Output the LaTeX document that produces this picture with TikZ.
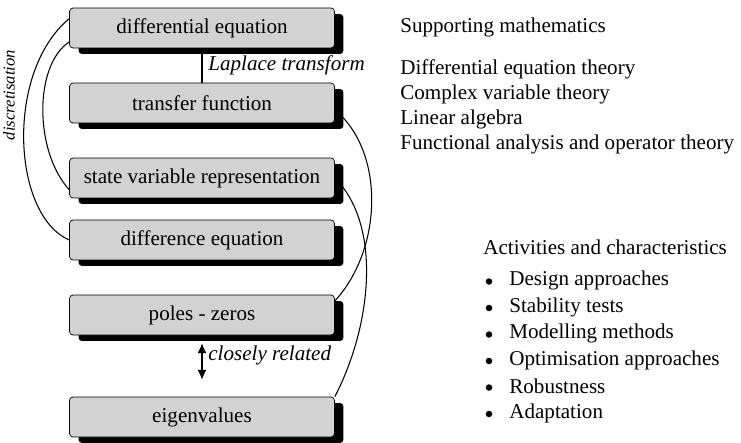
\documentclass[tikz,border=0pt]{standalone}
\usepackage{fontspec}
\setmainfont{Liberation Serif}
\usetikzlibrary{arrows.meta,shadows}

\begin{document}
\begin{tikzpicture}[
  x=0.02cm, y=-0.02cm,
  font=\fontsize{12}{14.2}\selectfont, >={Latex[length=5.5pt,width=5pt]},
  box/.style={draw,rounded corners=2pt,fill=gray!35,minimum width=5.3cm,minimum height=0.8cm,inner sep=2pt,
    drop shadow={shadow xshift=0.18cm,shadow yshift=-0.12cm,fill=black,opacity=1}},
  lbl/.style={font=\fontsize{12}{14.2}\selectfont\itshape},
  txt/.style={anchor=west,inner sep=0pt},
  dot/.style={circle,fill,inner sep=0pt,minimum size=0.13cm},
  link/.style={semithick},
]
\useasboundingbox (0,0) rectangle (741,443);
% model representations
\node[box] (de) at (202,28)  {differential equation};
\node[box] (tf) at (202,103) {transfer function};
\node[box] (sv) at (202,178) {state variable representation};
\node[box] (dq) at (202,240) {difference equation};
\node[box] (pz) at (202,315) {poles - zeros};
\node[box] (ev) at (202,417) {eigenvalues};
% links between them
\draw[link] (de) -- node[lbl,right] {Laplace transform} (tf);
\draw[link,<->,shorten <=0.16cm,shorten >=0.34cm] (pz) -- node[lbl,right,pos=0.33] {closely related} (ev);
\draw[link] (de.176) .. controls (5,72) and (12,215) .. (dq.west);
\node[lbl,font=\fontsize{9.5}{11}\selectfont\itshape,rotate=90] (dl) at (9,95) {discretisation};
\draw[link] (de.186) .. controls (34,65) and (34,151) .. (sv.185);
\draw[link] (tf.357) .. controls (384,150) and (384,247) .. (pz.6);
\draw[link] (sv.east) .. controls (382,225) and (372,325) .. (ev.north east);
% supporting mathematics
\node[txt] (sm) at (400,27) {Supporting mathematics};
\foreach \t [count=\i] in {Differential equation theory,Complex variable theory,Linear algebra,Functional analysis and operator theory}
  \node[txt] (m\i) at (400,{44+25*\i}) {\t};
% activities
\node[txt] (ac) at (483,247) {Activities and characteristics};
\foreach \t [count=\i] in {Design approaches,Stability tests,Modelling methods,Optimisation approaches,Robustness,Adaptation}{
  \node[dot] (b\i) at (489,{255+26.5*\i}) {};
  \node[txt] (a\i) at (509,{254+26.5*\i}) {\t};
}
\end{tikzpicture}
\end{document}
